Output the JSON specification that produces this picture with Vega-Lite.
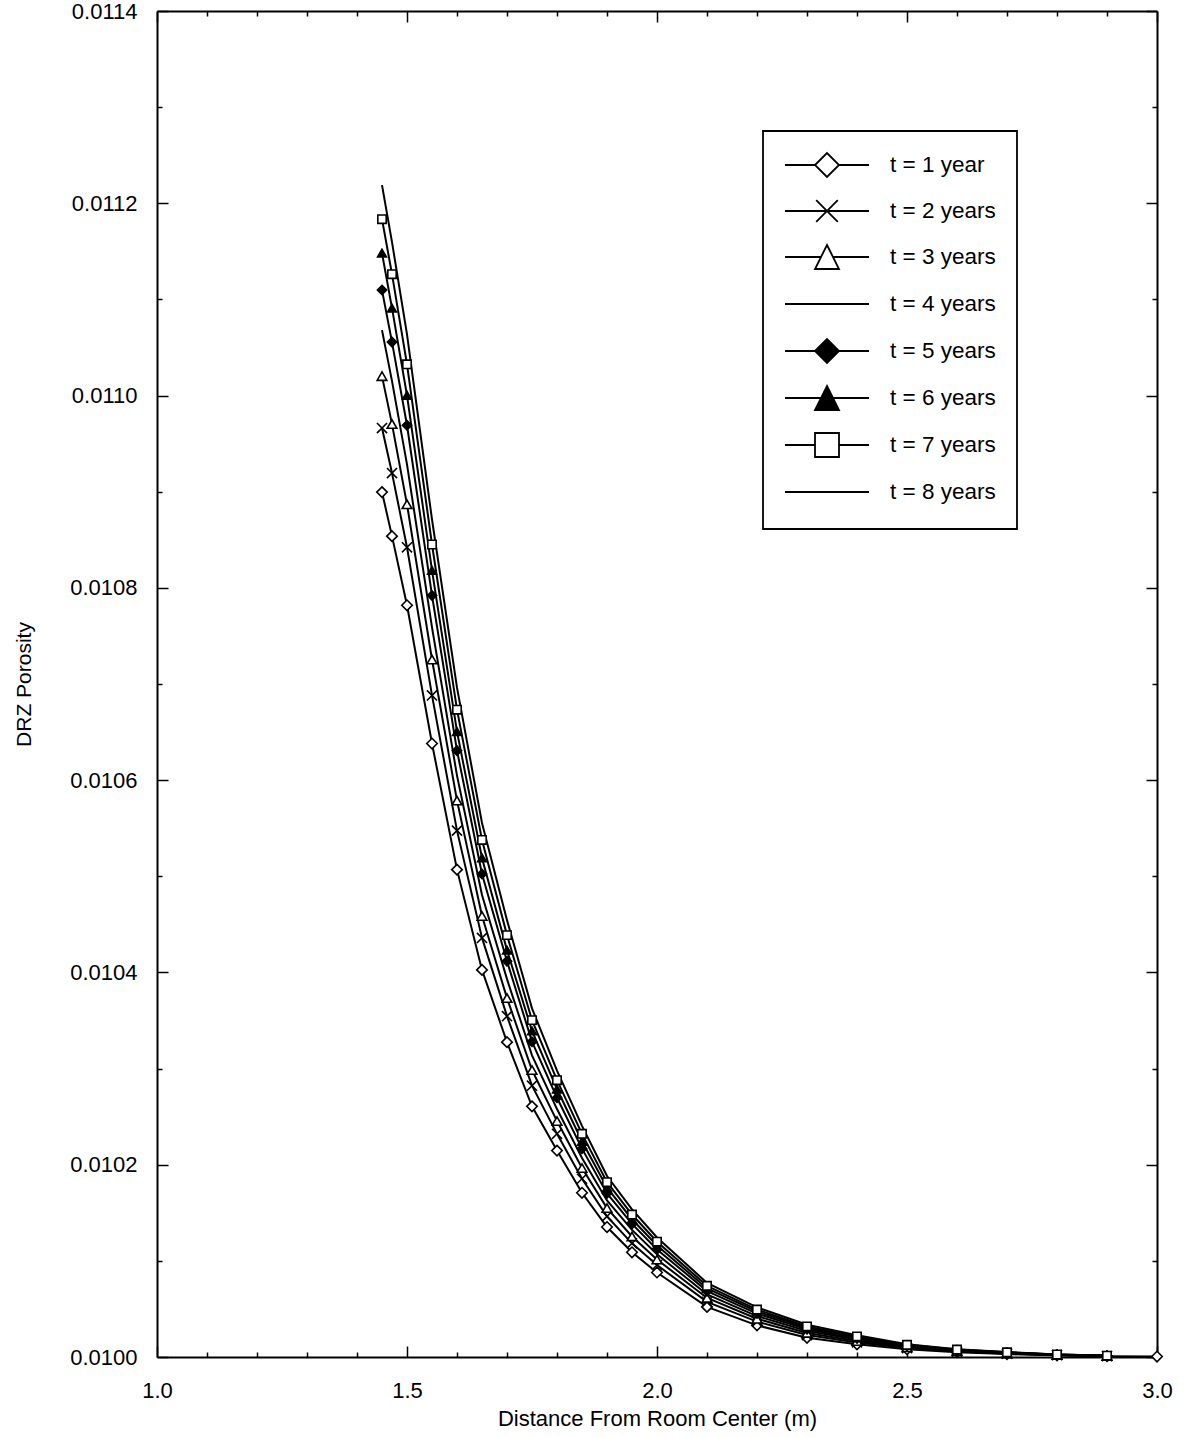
{
"$schema": "https://vega.github.io/schema/vega-lite/v6.json",
"width": 1000, "height": 1346,
"autosize": {"type": "none"},
"padding": {"left": 157, "top": 11, "right": 32, "bottom": 80},
"background": "white",
"config": {"view": {"stroke": null}, "font": "Liberation Sans",
  "legend": {"title": null, "strokeColor": "black", "fillColor": "white", "padding": 21, "rowPadding": 15, "symbolSize": 576, "symbolStrokeWidth": 1.8, "symbolStrokeColor": "black", "symbolOpacity": 1, "symbolOffset": 30, "labelOffset": 50, "labelFontSize": 22.5, "labelColor": "black", "labelFont": "Liberation Sans", "labelLimit": 0}},
"data": {"values": [
{"time":"t = 1 year","distance":1.45,"porosity":0.0108996},
{"time":"t = 1 year","distance":1.47,"porosity":0.0108538},
{"time":"t = 1 year","distance":1.50,"porosity":0.0107819},
{"time":"t = 1 year","distance":1.55,"porosity":0.0106381},
{"time":"t = 1 year","distance":1.60,"porosity":0.0105069},
{"time":"t = 1 year","distance":1.65,"porosity":0.0104026},
{"time":"t = 1 year","distance":1.70,"porosity":0.0103275},
{"time":"t = 1 year","distance":1.75,"porosity":0.0102607},
{"time":"t = 1 year","distance":1.80,"porosity":0.0102147},
{"time":"t = 1 year","distance":1.85,"porosity":0.0101708},
{"time":"t = 1 year","distance":1.90,"porosity":0.0101352},
{"time":"t = 1 year","distance":1.95,"porosity":0.0101089},
{"time":"t = 1 year","distance":2.00,"porosity":0.0100879},
{"time":"t = 1 year","distance":2.1,"porosity":0.0100521},
{"time":"t = 1 year","distance":2.2,"porosity":0.0100329},
{"time":"t = 1 year","distance":2.3,"porosity":0.0100200},
{"time":"t = 1 year","distance":2.4,"porosity":0.0100132},
{"time":"t = 1 year","distance":2.5,"porosity":0.0100081},
{"time":"t = 1 year","distance":2.6,"porosity":0.0100050},
{"time":"t = 1 year","distance":2.7,"porosity":0.0100030},
{"time":"t = 1 year","distance":2.8,"porosity":0.0100017},
{"time":"t = 1 year","distance":2.9,"porosity":0.0100009},
{"time":"t = 1 year","distance":3.0,"porosity":0.0100005},
{"time":"t = 2 years","distance":1.45,"porosity":0.0109662},
{"time":"t = 2 years","distance":1.47,"porosity":0.0109194},
{"time":"t = 2 years","distance":1.50,"porosity":0.0108422},
{"time":"t = 2 years","distance":1.55,"porosity":0.0106881},
{"time":"t = 2 years","distance":1.60,"porosity":0.0105475},
{"time":"t = 2 years","distance":1.65,"porosity":0.0104359},
{"time":"t = 2 years","distance":1.70,"porosity":0.0103545},
{"time":"t = 2 years","distance":1.75,"porosity":0.0102822},
{"time":"t = 2 years","distance":1.80,"porosity":0.0102321},
{"time":"t = 2 years","distance":1.85,"porosity":0.0101854},
{"time":"t = 2 years","distance":1.90,"porosity":0.0101463},
{"time":"t = 2 years","distance":1.95,"porosity":0.0101182},
{"time":"t = 2 years","distance":2.00,"porosity":0.0100956},
{"time":"t = 2 years","distance":2.1,"porosity":0.0100573},
{"time":"t = 2 years","distance":2.2,"porosity":0.0100368},
{"time":"t = 2 years","distance":2.3,"porosity":0.0100228},
{"time":"t = 2 years","distance":2.4,"porosity":0.0100152},
{"time":"t = 2 years","distance":2.5,"porosity":0.0100093},
{"time":"t = 2 years","distance":2.6,"porosity":0.0100056},
{"time":"t = 2 years","distance":2.7,"porosity":0.0100034},
{"time":"t = 2 years","distance":2.8,"porosity":0.0100019},
{"time":"t = 2 years","distance":2.9,"porosity":0.0100010},
{"time":"t = 3 years","distance":1.45,"porosity":0.0110202},
{"time":"t = 3 years","distance":1.47,"porosity":0.0109703},
{"time":"t = 3 years","distance":1.50,"porosity":0.0108869},
{"time":"t = 3 years","distance":1.55,"porosity":0.0107255},
{"time":"t = 3 years","distance":1.60,"porosity":0.0105787},
{"time":"t = 3 years","distance":1.65,"porosity":0.0104587},
{"time":"t = 3 years","distance":1.70,"porosity":0.0103733},
{"time":"t = 3 years","distance":1.75,"porosity":0.0102985},
{"time":"t = 3 years","distance":1.80,"porosity":0.0102454},
{"time":"t = 3 years","distance":1.85,"porosity":0.0101966},
{"time":"t = 3 years","distance":1.90,"porosity":0.0101549},
{"time":"t = 3 years","distance":1.95,"porosity":0.0101254},
{"time":"t = 3 years","distance":2.00,"porosity":0.0101014},
{"time":"t = 3 years","distance":2.1,"porosity":0.0100614},
{"time":"t = 3 years","distance":2.2,"porosity":0.0100398},
{"time":"t = 3 years","distance":2.3,"porosity":0.0100250},
{"time":"t = 3 years","distance":2.4,"porosity":0.0100166},
{"time":"t = 3 years","distance":2.5,"porosity":0.0100101},
{"time":"t = 3 years","distance":2.6,"porosity":0.0100061},
{"time":"t = 3 years","distance":2.7,"porosity":0.0100037},
{"time":"t = 3 years","distance":2.8,"porosity":0.0100021},
{"time":"t = 3 years","distance":2.9,"porosity":0.0100011},
{"time":"t = 4 years","distance":1.45,"porosity":0.0110681},
{"time":"t = 4 years","distance":1.47,"porosity":0.0110150},
{"time":"t = 4 years","distance":1.50,"porosity":0.0109285},
{"time":"t = 4 years","distance":1.55,"porosity":0.0107588},
{"time":"t = 4 years","distance":1.60,"porosity":0.0106047},
{"time":"t = 4 years","distance":1.65,"porosity":0.0104806},
{"time":"t = 4 years","distance":1.70,"porosity":0.0103930},
{"time":"t = 4 years","distance":1.75,"porosity":0.0103138},
{"time":"t = 4 years","distance":1.80,"porosity":0.0102579},
{"time":"t = 4 years","distance":1.85,"porosity":0.0102070},
{"time":"t = 4 years","distance":1.90,"porosity":0.0101628},
{"time":"t = 4 years","distance":1.95,"porosity":0.0101322},
{"time":"t = 4 years","distance":2.00,"porosity":0.0101068},
{"time":"t = 4 years","distance":2.1,"porosity":0.0100651},
{"time":"t = 4 years","distance":2.2,"porosity":0.0100426},
{"time":"t = 4 years","distance":2.3,"porosity":0.0100270},
{"time":"t = 4 years","distance":2.4,"porosity":0.0100181},
{"time":"t = 4 years","distance":2.5,"porosity":0.0100108},
{"time":"t = 4 years","distance":2.6,"porosity":0.0100067},
{"time":"t = 4 years","distance":2.7,"porosity":0.0100041},
{"time":"t = 4 years","distance":2.8,"porosity":0.0100022},
{"time":"t = 4 years","distance":2.9,"porosity":0.0100012},
{"time":"t = 5 years","distance":1.45,"porosity":0.0111097},
{"time":"t = 5 years","distance":1.47,"porosity":0.0110556},
{"time":"t = 5 years","distance":1.50,"porosity":0.0109691},
{"time":"t = 5 years","distance":1.55,"porosity":0.0107921},
{"time":"t = 5 years","distance":1.60,"porosity":0.0106307},
{"time":"t = 5 years","distance":1.65,"porosity":0.0105024},
{"time":"t = 5 years","distance":1.70,"porosity":0.0104117},
{"time":"t = 5 years","distance":1.75,"porosity":0.0103280},
{"time":"t = 5 years","distance":1.80,"porosity":0.0102696},
{"time":"t = 5 years","distance":1.85,"porosity":0.0102167},
{"time":"t = 5 years","distance":1.90,"porosity":0.0101702},
{"time":"t = 5 years","distance":1.95,"porosity":0.0101384},
{"time":"t = 5 years","distance":2.00,"porosity":0.0101119},
{"time":"t = 5 years","distance":2.1,"porosity":0.0100685},
{"time":"t = 5 years","distance":2.2,"porosity":0.0100452},
{"time":"t = 5 years","distance":2.3,"porosity":0.0100289},
{"time":"t = 5 years","distance":2.4,"porosity":0.0100193},
{"time":"t = 5 years","distance":2.5,"porosity":0.0100115},
{"time":"t = 5 years","distance":2.6,"porosity":0.0100071},
{"time":"t = 5 years","distance":2.7,"porosity":0.0100044},
{"time":"t = 5 years","distance":2.8,"porosity":0.0100024},
{"time":"t = 5 years","distance":2.9,"porosity":0.0100012},
{"time":"t = 6 years","distance":1.45,"porosity":0.0111482},
{"time":"t = 6 years","distance":1.47,"porosity":0.0110910},
{"time":"t = 6 years","distance":1.50,"porosity":0.0110003},
{"time":"t = 6 years","distance":1.55,"porosity":0.0108181},
{"time":"t = 6 years","distance":1.60,"porosity":0.0106504},
{"time":"t = 6 years","distance":1.65,"porosity":0.0105191},
{"time":"t = 6 years","distance":1.70,"porosity":0.0104232},
{"time":"t = 6 years","distance":1.75,"porosity":0.0103392},
{"time":"t = 6 years","distance":1.80,"porosity":0.0102787},
{"time":"t = 6 years","distance":1.85,"porosity":0.0102244},
{"time":"t = 6 years","distance":1.90,"porosity":0.0101761},
{"time":"t = 6 years","distance":1.95,"porosity":0.0101433},
{"time":"t = 6 years","distance":2.00,"porosity":0.0101160},
{"time":"t = 6 years","distance":2.1,"porosity":0.0100713},
{"time":"t = 6 years","distance":2.2,"porosity":0.0100473},
{"time":"t = 6 years","distance":2.3,"porosity":0.0100304},
{"time":"t = 6 years","distance":2.4,"porosity":0.0100204},
{"time":"t = 6 years","distance":2.5,"porosity":0.0100122},
{"time":"t = 6 years","distance":2.6,"porosity":0.0100074},
{"time":"t = 6 years","distance":2.7,"porosity":0.0100046},
{"time":"t = 6 years","distance":2.8,"porosity":0.0100025},
{"time":"t = 6 years","distance":2.9,"porosity":0.0100014},
{"time":"t = 7 years","distance":1.45,"porosity":0.0111835},
{"time":"t = 7 years","distance":1.47,"porosity":0.0111263},
{"time":"t = 7 years","distance":1.50,"porosity":0.0110325},
{"time":"t = 7 years","distance":1.55,"porosity":0.0108451},
{"time":"t = 7 years","distance":1.60,"porosity":0.0106733},
{"time":"t = 7 years","distance":1.65,"porosity":0.0105378},
{"time":"t = 7 years","distance":1.70,"porosity":0.0104388},
{"time":"t = 7 years","distance":1.75,"porosity":0.0103504},
{"time":"t = 7 years","distance":1.80,"porosity":0.0102879},
{"time":"t = 7 years","distance":1.85,"porosity":0.0102321},
{"time":"t = 7 years","distance":1.90,"porosity":0.0101819},
{"time":"t = 7 years","distance":1.95,"porosity":0.0101482},
{"time":"t = 7 years","distance":2.00,"porosity":0.0101199},
{"time":"t = 7 years","distance":2.1,"porosity":0.0100740},
{"time":"t = 7 years","distance":2.2,"porosity":0.0100493},
{"time":"t = 7 years","distance":2.3,"porosity":0.0100318},
{"time":"t = 7 years","distance":2.4,"porosity":0.0100214},
{"time":"t = 7 years","distance":2.5,"porosity":0.0100127},
{"time":"t = 7 years","distance":2.6,"porosity":0.0100077},
{"time":"t = 7 years","distance":2.7,"porosity":0.0100049},
{"time":"t = 7 years","distance":2.8,"porosity":0.0100026},
{"time":"t = 7 years","distance":2.9,"porosity":0.0100014},
{"time":"t = 8 years","distance":1.45,"porosity":0.0112189},
{"time":"t = 8 years","distance":1.47,"porosity":0.0111596},
{"time":"t = 8 years","distance":1.50,"porosity":0.0110637},
{"time":"t = 8 years","distance":1.55,"porosity":0.0108711},
{"time":"t = 8 years","distance":1.60,"porosity":0.0106962},
{"time":"t = 8 years","distance":1.65,"porosity":0.0105555},
{"time":"t = 8 years","distance":1.70,"porosity":0.0104544},
{"time":"t = 8 years","distance":1.75,"porosity":0.0103626},
{"time":"t = 8 years","distance":1.80,"porosity":0.0102979},
{"time":"t = 8 years","distance":1.85,"porosity":0.0102404},
{"time":"t = 8 years","distance":1.90,"porosity":0.0101882},
{"time":"t = 8 years","distance":1.95,"porosity":0.0101536},
{"time":"t = 8 years","distance":2.00,"porosity":0.0101243},
{"time":"t = 8 years","distance":2.1,"porosity":0.0100771},
{"time":"t = 8 years","distance":2.2,"porosity":0.0100516},
{"time":"t = 8 years","distance":2.3,"porosity":0.0100335},
{"time":"t = 8 years","distance":2.4,"porosity":0.0100226},
{"time":"t = 8 years","distance":2.5,"porosity":0.0100133},
{"time":"t = 8 years","distance":2.6,"porosity":0.0100081},
{"time":"t = 8 years","distance":2.7,"porosity":0.0100051},
{"time":"t = 8 years","distance":2.8,"porosity":0.0100027},
{"time":"t = 8 years","distance":2.9,"porosity":0.0100015}
]},
"resolve": {"axis": {"x": "independent", "y": "independent"}, "scale": {"shape": "independent", "fill": "independent", "size": "independent"}},
"layer": [
 {
  "mark": {"type": "line", "color": "black", "strokeWidth": 2},
  "encoding": {
   "x": {"field": "distance", "type": "quantitative", "scale": {"domain": [1, 3], "nice": false, "zero": false},
     "axis": {"orient": "bottom", "values": [1.0,1.1,1.2,1.3,1.4,1.5,1.6,1.7,1.8,1.9,2.0,2.1,2.2,2.3,2.4,2.5,2.6,2.7,2.8,2.9,3.0],
       "tickSize": {"condition": {"test": "abs(datum.value*2 - round(datum.value*2)) < 0.01", "value": -11}, "value": -5},
       "labelExpr": "abs(datum.value*2 - round(datum.value*2)) < 0.01 ? format(datum.value, '.1f') : ''",
       "labelFlush": false, "labelOverlap": false, "labelFontSize": 22, "labelColor": "black", "labelPadding": 34,
       "title": "Distance From Room Center (m)", "titleFontSize": 22, "titleFontWeight": "normal", "titleColor": "black", "titlePadding": 1,
       "domainColor": "black", "domainWidth": 2, "tickColor": "black", "tickWidth": 1.5, "grid": false}},
   "y": {"field": "porosity", "type": "quantitative", "scale": {"domain": [0.01, 0.0114], "nice": false, "zero": false},
     "axis": {"orient": "left", "values": [0.0100,0.0101,0.0102,0.0103,0.0104,0.0105,0.0106,0.0107,0.0108,0.0109,0.0110,0.0111,0.0112,0.0113,0.0114],
       "tickSize": {"condition": {"test": "abs(datum.value*5000 - round(datum.value*5000)) < 0.01", "value": -11}, "value": -5},
       "labelExpr": "abs(datum.value*5000 - round(datum.value*5000)) < 0.01 ? format(datum.value, '.4f') : ''",
       "labelFlush": false, "labelOverlap": false, "labelFontSize": 22, "labelColor": "black", "labelPadding": 31,
       "title": "DRZ Porosity", "titleFontSize": 21, "titleFontWeight": "normal", "titleColor": "black", "titlePadding": 35,
       "domainColor": "black", "domainWidth": 2, "tickColor": "black", "tickWidth": 1.5, "grid": false}},
   "detail": {"field": "time"}
  }
 },
 {
  "transform": [{"filter": {"field": "time", "oneOf": ["t = 1 year","t = 2 years","t = 3 years","t = 5 years","t = 6 years","t = 7 years"]}}],
  "mark": {"type": "point", "stroke": "black", "strokeWidth": 1.6, "filled": true, "opacity": 1},
  "encoding": {
   "x": {"field": "distance", "type": "quantitative",
     "axis": {"orient": "top", "values": [1.0,1.1,1.2,1.3,1.4,1.5,1.6,1.7,1.8,1.9,2.0,2.1,2.2,2.3,2.4,2.5,2.6,2.7,2.8,2.9,3.0],
       "tickSize": {"condition": {"test": "abs(datum.value*2 - round(datum.value*2)) < 0.01", "value": -11}, "value": -5},
       "labels": false, "title": null, "domainColor": "black", "domainWidth": 2, "tickColor": "black", "tickWidth": 1.5, "grid": false}},
   "y": {"field": "porosity", "type": "quantitative",
     "axis": {"orient": "right", "values": [0.0100,0.0101,0.0102,0.0103,0.0104,0.0105,0.0106,0.0107,0.0108,0.0109,0.0110,0.0111,0.0112,0.0113,0.0114],
       "tickSize": {"condition": {"test": "abs(datum.value*5000 - round(datum.value*5000)) < 0.01", "value": -11}, "value": -5},
       "labels": false, "title": null, "domainColor": "black", "domainWidth": 2, "tickColor": "black", "tickWidth": 1.5, "grid": false}},
   "shape": {"field": "time", "type": "nominal", "legend": null,
     "scale": {"domain": ["t = 1 year","t = 2 years","t = 3 years","t = 5 years","t = 6 years","t = 7 years"],
       "range": ["diamond", "M-1,-1L1,1M-1,1L1,-1", "triangle-up", "diamond", "triangle-up", "square"]}},
   "fill": {"field": "time", "type": "nominal", "legend": null,
     "scale": {"domain": ["t = 1 year","t = 2 years","t = 3 years","t = 5 years","t = 6 years","t = 7 years"],
       "range": ["white", "white", "white", "black", "black", "white"]}},
   "size": {"field": "time", "type": "ordinal", "legend": null,
     "scale": {"domain": ["t = 1 year","t = 2 years","t = 3 years","t = 5 years","t = 6 years","t = 7 years"],
       "range": [110, 70, 70, 55, 55, 70]}}
  }
 },
 {
  "mark": {"type": "point", "opacity": 0, "size": 576, "stroke": "black", "strokeWidth": 1.8, "filled": true},
  "encoding": {
   "x": {"field": "distance", "type": "quantitative", "axis": null},
   "y": {"field": "porosity", "type": "quantitative", "axis": null},
   "shape": {"field": "time", "type": "nominal",
     "legend": {"orient": "none", "legendX": 606, "legendY": 120, "title": null, "encode": {"legend": {"update": {"strokeWidth": {"value": 1.8}}}}},
     "scale": {"domain": ["t = 1 year","t = 2 years","t = 3 years","t = 4 years","t = 5 years","t = 6 years","t = 7 years","t = 8 years"],
       "range": ["M-3.5,0H-1M1,0H3.5M-1,0L0,-1L1,0L0,1Z",
                 "M-3.5,0H3.5M-0.9,-0.9L0.9,0.9M-0.9,0.9L0.9,-0.9",
                 "M-3.5,0H-0.5M0.5,0H3.5M0,-1L1,1L-1,1Z",
                 "M-3.5,0H3.5M0,-1M0,1",
                 "M-3.5,0H-1M1,0H3.5M-1,0L0,-1L1,0L0,1Z",
                 "M-3.5,0H3.5M0,-1L1,1L-1,1Z",
                 "M-3.5,0H-1M1,0H3.5M-1,-1H1V1H-1Z",
                 "M-3.5,0H3.5M0,-1M0,1"]}},
   "fill": {"field": "time", "type": "nominal",
     "legend": {"orient": "none", "legendX": 606, "legendY": 120, "title": null, "encode": {"legend": {"update": {"strokeWidth": {"value": 1.8}}}}},
     "scale": {"domain": ["t = 1 year","t = 2 years","t = 3 years","t = 4 years","t = 5 years","t = 6 years","t = 7 years","t = 8 years"],
       "range": ["white", "white", "white", "white", "black", "black", "white", "white"]}}
  }
 }
]
}
